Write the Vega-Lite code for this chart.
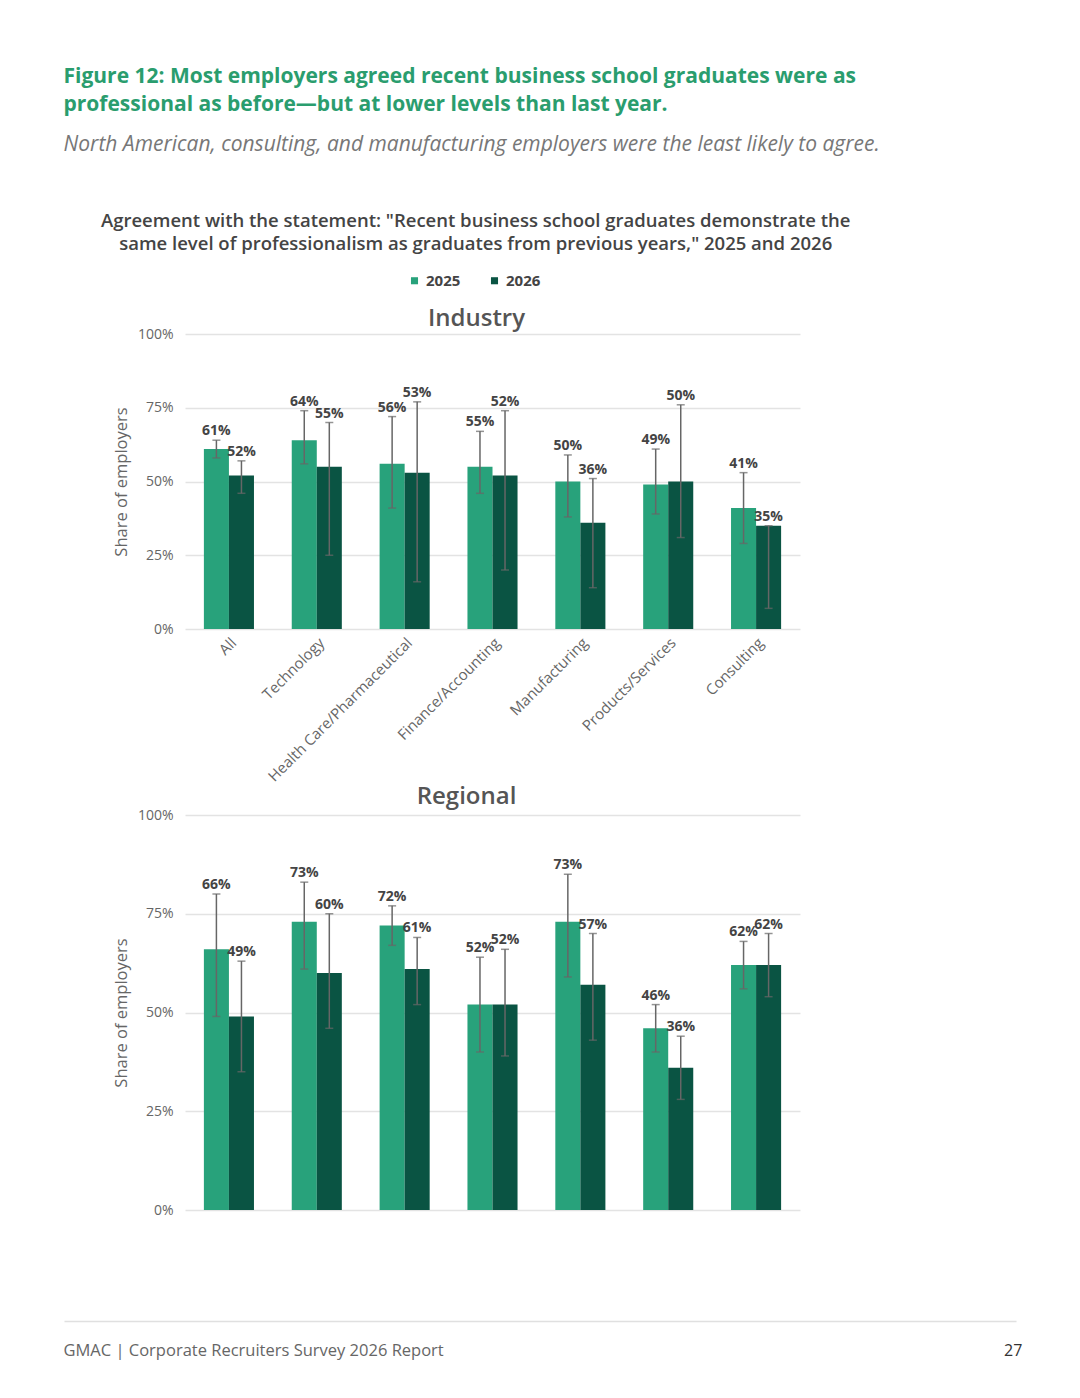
{
  "$schema": "https://vega.github.io/schema/vega-lite/v6.json",
  "background": "white",
  "padding": {"left": 63, "top": 66, "right": 10, "bottom": 10},
  "datasets": {
    "industry": [
      {"category": "All", "year": "2025", "value": 0.61, "lo": 0.58, "hi": 0.64},
      {"category": "All", "year": "2026", "value": 0.52, "lo": 0.46, "hi": 0.57},
      {"category": "Technology", "year": "2025", "value": 0.64, "lo": 0.56, "hi": 0.74},
      {"category": "Technology", "year": "2026", "value": 0.55, "lo": 0.25, "hi": 0.70},
      {"category": "Health Care/Pharmaceutical", "year": "2025", "value": 0.56, "lo": 0.41, "hi": 0.72},
      {"category": "Health Care/Pharmaceutical", "year": "2026", "value": 0.53, "lo": 0.16, "hi": 0.77},
      {"category": "Finance/Accounting", "year": "2025", "value": 0.55, "lo": 0.46, "hi": 0.67},
      {"category": "Finance/Accounting", "year": "2026", "value": 0.52, "lo": 0.20, "hi": 0.74},
      {"category": "Manufacturing", "year": "2025", "value": 0.50, "lo": 0.38, "hi": 0.59},
      {"category": "Manufacturing", "year": "2026", "value": 0.36, "lo": 0.14, "hi": 0.51},
      {"category": "Products/Services", "year": "2025", "value": 0.49, "lo": 0.39, "hi": 0.61},
      {"category": "Products/Services", "year": "2026", "value": 0.50, "lo": 0.31, "hi": 0.76},
      {"category": "Consulting", "year": "2025", "value": 0.41, "lo": 0.29, "hi": 0.53},
      {"category": "Consulting", "year": "2026", "value": 0.35, "lo": 0.07, "hi": 0.35}
    ],
    "regional": [
      {"region": "Africa", "year": "2025", "value": 0.66, "lo": 0.49, "hi": 0.80},
      {"region": "Africa", "year": "2026", "value": 0.49, "lo": 0.35, "hi": 0.63},
      {"region": "Asia-Pacific", "year": "2025", "value": 0.73, "lo": 0.61, "hi": 0.83},
      {"region": "Asia-Pacific", "year": "2026", "value": 0.60, "lo": 0.46, "hi": 0.75},
      {"region": "Central & South Asia", "year": "2025", "value": 0.72, "lo": 0.67, "hi": 0.77},
      {"region": "Central & South Asia", "year": "2026", "value": 0.61, "lo": 0.52, "hi": 0.69},
      {"region": "Europe", "year": "2025", "value": 0.52, "lo": 0.40, "hi": 0.64},
      {"region": "Europe", "year": "2026", "value": 0.52, "lo": 0.39, "hi": 0.66},
      {"region": "Latin America", "year": "2025", "value": 0.73, "lo": 0.59, "hi": 0.85},
      {"region": "Latin America", "year": "2026", "value": 0.57, "lo": 0.43, "hi": 0.70},
      {"region": "North America", "year": "2025", "value": 0.46, "lo": 0.40, "hi": 0.52},
      {"region": "North America", "year": "2026", "value": 0.36, "lo": 0.28, "hi": 0.44},
      {"region": "Middle East", "year": "2025", "value": 0.62, "lo": 0.56, "hi": 0.68},
      {"region": "Middle East", "year": "2026", "value": 0.62, "lo": 0.54, "hi": 0.70}
    ],
    "footer": [{"v": 0}]
  },
  "title": {
    "text": ["Figure 12: Most employers agreed recent business school graduates were as", "professional as before\u2014but at lower levels than last year."],
    "anchor": "start",
    "font": "Open Sans",
    "fontSize": 21,
    "fontWeight": "bold",
    "color": "#2a9d6e",
    "lineHeight": 28,
    "subtitle": "North American, consulting, and manufacturing employers were the least likely to agree.",
    "subtitleFont": "Open Sans",
    "subtitleFontStyle": "italic",
    "subtitleFontSize": 21,
    "subtitleColor": "#777777",
    "subtitlePadding": 19,
    "offset": 57
  },
  "vconcat": [
    {
      "title": {
        "text": "GMAC  |  Corporate Recruiters Survey 2026 Report",
        "orient": "bottom",
        "anchor": "start",
        "offset": -16,
        "font": "Open Sans",
        "fontSize": 16.5,
        "fontWeight": "normal",
        "color": "#666666"
      },
      "resolve": {"legend": {"color": "independent"}},
      "spacing": 104,
      "vconcat": [
        {
          "title": {
            "text": ["Agreement with the statement: \"Recent business school graduates demonstrate the", "same level of professionalism as graduates from previous years,\" 2025 and 2026"],
            "anchor": "middle",
            "dx": 19,
            "font": "Open Sans",
            "fontSize": 18.5,
            "fontWeight": 600,
            "color": "#444444",
            "lineHeight": 22.5,
            "offset": 20
          },
          "spacing": 0,
          "vconcat": [
            {
              "width": 615,
              "height": 295,
              "title": {"text": "Industry", "anchor": "middle", "frame": "group", "dx": -16, "offset": -4, "font": "Open Sans", "fontSize": 24, "fontWeight": 600, "color": "#555555"},
              "data": {"name": "industry"},
              "encoding": {
                "x": {"field": "category", "type": "nominal", "sort": null,
                  "scale": {"paddingInner": 0.43, "paddingOuter": 0.215},
                  "axis": {"title": null, "labelAngle": -45, "labelFontSize": 15, "labelLimit": 400, "labelColor": "#666666", "domain": false, "ticks": false, "labelPadding": 6}},
                "xOffset": {"field": "year", "type": "nominal", "sort": ["2025", "2026"]}
              },
              "layer": [
                {
                  "mark": {"type": "bar"},
                  "encoding": {
                    "y": {"field": "value", "type": "quantitative", "scale": {"domain": [0, 1]},
                      "axis": {"values": [0, 0.25, 0.5, 0.75, 1], "format": ".0%", "title": "Share of employers"}},
                    "color": {"field": "year", "type": "nominal", "scale": {"domain": ["2025", "2026"], "range": ["#28a27b", "#0a5443"]},
                      "legend": {"title": " ", "titleOrient": "left", "titlePadding": 34, "orient": "top", "direction": "horizontal", "symbolType": "square", "symbolSize": 50, "labelFontSize": 15, "labelFontWeight": "bold", "labelColor": "#444444", "columnPadding": 26, "labelFont": "Open Sans"}}
                  }
                },
                {
                  "mark": {"type": "rule", "color": "#666666", "strokeWidth": 1.5},
                  "encoding": {"y": {"field": "lo", "type": "quantitative"}, "y2": {"field": "hi"}}
                },
                {
                  "mark": {"type": "tick", "color": "#666666", "size": 8, "thickness": 1.5},
                  "encoding": {"y": {"field": "lo", "type": "quantitative"}}
                },
                {
                  "mark": {"type": "tick", "color": "#666666", "size": 8, "thickness": 1.5},
                  "encoding": {"y": {"field": "hi", "type": "quantitative"}}
                },
                {
                  "mark": {"type": "text", "baseline": "bottom", "dy": -2, "fontSize": 14, "fontWeight": "bold", "color": "#444444", "font": "Open Sans"},
                  "encoding": {"y": {"field": "hi", "type": "quantitative"}, "text": {"field": "value", "type": "quantitative", "format": ".0%"}}
                }
              ]
            },
            {
              "width": 615,
              "height": 395,
              "title": {"text": "Regional", "anchor": "middle", "frame": "group", "dx": -26, "offset": -1, "font": "Open Sans", "fontSize": 24, "fontWeight": 600, "color": "#555555"},
              "data": {"name": "regional"},
              "encoding": {
                "x": {"field": "region", "type": "nominal", "sort": null,
                  "scale": {"paddingInner": 0.43, "paddingOuter": 0.215},
                  "axis": {"title": null, "labels": false, "domain": false, "ticks": false}},
                "xOffset": {"field": "year", "type": "nominal", "sort": ["2025", "2026"]}
              },
              "layer": [
                {
                  "mark": {"type": "bar"},
                  "encoding": {
                    "y": {"field": "value", "type": "quantitative", "scale": {"domain": [0, 1]},
                      "axis": {"values": [0, 0.25, 0.5, 0.75, 1], "format": ".0%", "title": "Share of employers"}},
                    "color": {"field": "year", "type": "nominal", "scale": {"domain": ["2025", "2026"], "range": ["#28a27b", "#0a5443"]}}
                  }
                },
                {
                  "mark": {"type": "rule", "color": "#666666", "strokeWidth": 1.5},
                  "encoding": {"y": {"field": "lo", "type": "quantitative"}, "y2": {"field": "hi"}}
                },
                {
                  "mark": {"type": "tick", "color": "#666666", "size": 8, "thickness": 1.5},
                  "encoding": {"y": {"field": "lo", "type": "quantitative"}}
                },
                {
                  "mark": {"type": "tick", "color": "#666666", "size": 8, "thickness": 1.5},
                  "encoding": {"y": {"field": "hi", "type": "quantitative"}}
                },
                {
                  "mark": {"type": "text", "baseline": "bottom", "dy": -2, "fontSize": 14, "fontWeight": "bold", "color": "#444444", "font": "Open Sans"},
                  "encoding": {"y": {"field": "hi", "type": "quantitative"}, "text": {"field": "value", "type": "quantitative", "format": ".0%"}}
                }
              ]
            }
          ]
        },
        {
          "width": 831,
          "height": 1,
          "data": {"name": "footer"},
          "title": {"text": "27", "orient": "bottom", "anchor": "start", "frame": "group", "align": "left", "dx": 819, "offset": 21, "font": "Open Sans", "fontSize": 16, "fontWeight": "normal", "color": "#333333"},
          "mark": {"type": "point", "opacity": 0, "size": 1, "filled": true, "shape": "square", "strokeWidth": 0},
          "encoding": {
            "x": {"field": "v", "type": "quantitative", "scale": {"domain": [0, 1], "range": [-121, 831]},
              "axis": {"orient": "top", "domain": true, "domainColor": "#e0e0e0", "domainWidth": 1.5, "ticks": false, "labels": false, "grid": false, "title": null}}
          }
        }
      ]
    }
  ],
  "config": {
    "view": {"stroke": null},
    "font": "Open Sans",
    "axis": {"labelFont": "Open Sans", "titleFont": "Open Sans"},
    "axisY": {"domain": false, "ticks": false, "labelFontSize": 14, "labelColor": "#666666", "labelPadding": 12, "gridColor": "#e3e3e3", "gridWidth": 1.5, "titleFontSize": 16.5, "titleFontWeight": "normal", "titleColor": "#666666", "titlePadding": 8},
    "axisX": {"grid": false},
    "legend": {"layout": {"top": {"anchor": "middle"}}}
  }
}
